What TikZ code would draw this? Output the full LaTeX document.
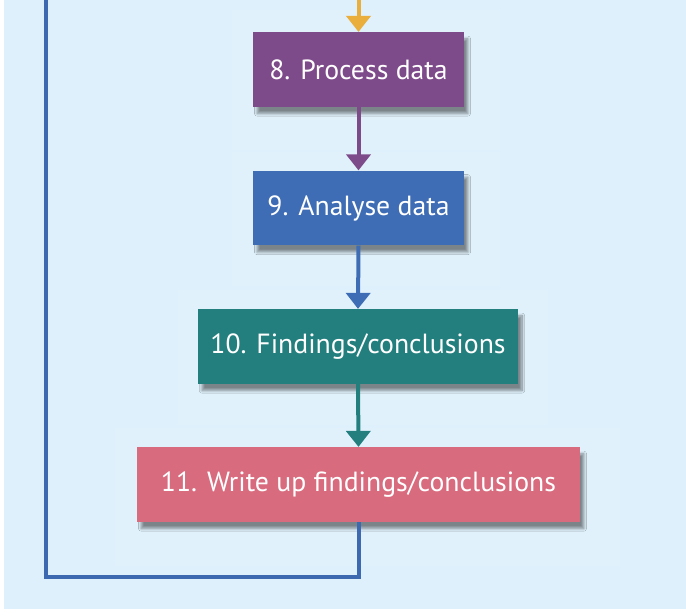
\documentclass[tikz,border=0pt]{standalone}
\usepackage{fontspec}
\setmainfont{PT Sans}
\usetikzlibrary{arrows.meta,shadows.blur}
\definecolor{bgblue}{HTML}{DDF0FB}
\definecolor{cpurple}{HTML}{7E4B8A}
\definecolor{cblue}{HTML}{3E6DB5}
\definecolor{cteal}{HTML}{237F7E}
\definecolor{cpink}{HTML}{D86B7D}
\definecolor{cyellow}{HTML}{E9AE3B}
\definecolor{cloop}{HTML}{3D69B0}
\tikzset{
  stepbox/.style={draw=none, inner sep=0pt, minimum height=56pt, text=white,
    font=\fontsize{20.8}{24}\selectfont,
    blur shadow={shadow xshift=3pt, shadow yshift=-5pt, shadow blur steps=10, shadow opacity=45}},
  flow/.style={line width=3pt, -{Triangle[width=18pt,length=12pt]}},
  halo/.style={fill=white, opacity=0.1, draw=none}
}
\begin{document}
\begin{tikzpicture}[x=0.75pt,y=-0.75pt]
\useasboundingbox (0,0) rectangle (686,616);
\fill[white] (0,0) rectangle (686,616);
\fill[bgblue] (4,0) rectangle (686,609);
% faint halos
\fill[halo] (232,10) rectangle (500,150);
\fill[halo] (232,152) rectangle (500,286);
\fill[halo] (178,290) rectangle (548,425);
\fill[halo] (115,428) rectangle (620,566);
% boxes
\node[stepbox, fill=cpurple, minimum width=158pt] (b8) at (358.5,69.5) {8. Process data};
\node[stepbox, fill=cblue, minimum width=158pt] (b9) at (358.5,208) {9. Analyse data};
\node[stepbox, fill=cteal, minimum width=240pt] (b10) at (358,346.5) {10. Findings/conclusions};
\node[stepbox, fill=cpink, minimum width=332pt] (b11) at (358.5,484.5) {11. Write up findings/conclusions};
% connectors
\coordinate (top) at (358.5,0);
\coordinate (loopcorner) at (46,577);
\coordinate (looptop) at (46,0);
\draw[flow, cyellow] (top) -- (b8.north);
\draw[flow, cpurple] (b8.south) -- (b9.north);
\draw[flow, cblue] (b9.south) -- (b10.north);
\draw[flow, cteal] (b10.south) -- (b11.north);
\draw[cloop, line width=3pt] (b11.south) |- (loopcorner) -- (looptop);
\end{tikzpicture}
\end{document}
